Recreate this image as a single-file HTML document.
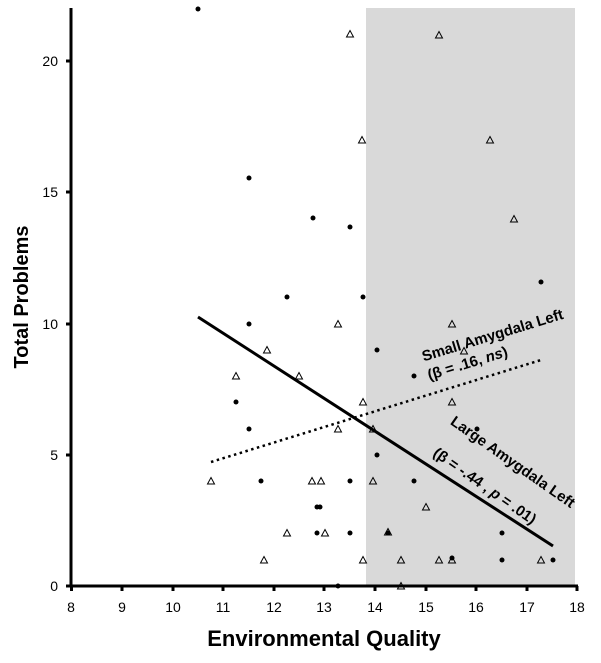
<!DOCTYPE html>
<html><head><meta charset="utf-8"><style>
html,body{margin:0;padding:0;background:#fff;}
svg{display:block;font-family:"Liberation Sans",sans-serif;}
</style></head><body>
<svg width="601" height="663" viewBox="0 0 601 663" xmlns="http://www.w3.org/2000/svg">
<rect x="366" y="8" width="209" height="578" fill="#d9d9d9"/>
<g fill="#000">
<circle cx="198" cy="9" r="2.5"/><circle cx="249" cy="178" r="2.5"/><circle cx="313" cy="218" r="2.5"/><circle cx="350" cy="227" r="2.5"/>
<circle cx="287" cy="297" r="2.5"/><circle cx="363" cy="297" r="2.5"/><circle cx="541" cy="282" r="2.5"/>
<circle cx="249" cy="324" r="2.5"/><circle cx="377" cy="350" r="2.5"/><circle cx="236" cy="402" r="2.5"/><circle cx="249" cy="429" r="2.5"/>
<circle cx="377" cy="455" r="2.5"/><circle cx="261" cy="481" r="2.5"/><circle cx="350" cy="481" r="2.5"/>
<circle cx="317" cy="507" r="2.5"/><circle cx="320" cy="507" r="2.5"/><circle cx="317" cy="533" r="2.5"/><circle cx="350" cy="533" r="2.5"/>
<circle cx="338" cy="586" r="2.5"/><circle cx="414" cy="376" r="2.5"/><circle cx="477" cy="429" r="2.5"/><circle cx="414" cy="481" r="2.5"/>
<circle cx="502" cy="533" r="2.5"/><circle cx="502" cy="560" r="2.5"/><circle cx="553" cy="560" r="2.5"/><circle cx="452" cy="558" r="2.5"/><circle cx="388" cy="533" r="2.5"/>
</g>
<g fill="none" stroke="#000" stroke-width="1">
<path d="M0,-3.5 L3.5,3 L-3.5,3 Z" transform="translate(350,34)"/>
<path d="M0,-3.5 L3.5,3 L-3.5,3 Z" transform="translate(439,35)"/>
<path d="M0,-3.5 L3.5,3 L-3.5,3 Z" transform="translate(362,140)"/>
<path d="M0,-3.5 L3.5,3 L-3.5,3 Z" transform="translate(490,140)"/>
<path d="M0,-3.5 L3.5,3 L-3.5,3 Z" transform="translate(514,219)"/>
<path d="M0,-3.5 L3.5,3 L-3.5,3 Z" transform="translate(338,324)"/>
<path d="M0,-3.5 L3.5,3 L-3.5,3 Z" transform="translate(452,324)"/>
<path d="M0,-3.5 L3.5,3 L-3.5,3 Z" transform="translate(267,350)"/>
<path d="M0,-3.5 L3.5,3 L-3.5,3 Z" transform="translate(464,351)"/>
<path d="M0,-3.5 L3.5,3 L-3.5,3 Z" transform="translate(236,376)"/>
<path d="M0,-3.5 L3.5,3 L-3.5,3 Z" transform="translate(299,376)"/>
<path d="M0,-3.5 L3.5,3 L-3.5,3 Z" transform="translate(363,402)"/>
<path d="M0,-3.5 L3.5,3 L-3.5,3 Z" transform="translate(452,402)"/>
<path d="M0,-3.5 L3.5,3 L-3.5,3 Z" transform="translate(338,429)"/>
<path d="M0,-3.5 L3.5,3 L-3.5,3 Z" transform="translate(373,429)"/>
<path d="M0,-3.5 L3.5,3 L-3.5,3 Z" transform="translate(211,481)"/>
<path d="M0,-3.5 L3.5,3 L-3.5,3 Z" transform="translate(312,481)"/>
<path d="M0,-3.5 L3.5,3 L-3.5,3 Z" transform="translate(321,481)"/>
<path d="M0,-3.5 L3.5,3 L-3.5,3 Z" transform="translate(373,481)"/>
<path d="M0,-3.5 L3.5,3 L-3.5,3 Z" transform="translate(426,507)"/>
<path d="M0,-3.5 L3.5,3 L-3.5,3 Z" transform="translate(287,533)"/>
<path d="M0,-3.5 L3.5,3 L-3.5,3 Z" transform="translate(325,533)"/>
<path d="M0,-3.5 L3.5,3 L-3.5,3 Z" transform="translate(264,560)"/>
<path d="M0,-3.5 L3.5,3 L-3.5,3 Z" transform="translate(363,560)"/>
<path d="M0,-3.5 L3.5,3 L-3.5,3 Z" transform="translate(401,560)"/>
<path d="M0,-3.5 L3.5,3 L-3.5,3 Z" transform="translate(439,560)"/>
<path d="M0,-3.5 L3.5,3 L-3.5,3 Z" transform="translate(541,560)"/>
<path d="M0,-3.5 L3.5,3 L-3.5,3 Z" transform="translate(401,586)"/>
<path d="M0,-3.5 L3.5,3 L-3.5,3 Z" transform="translate(452,560)"/>
<path d="M0,-3.5 L3.5,3 L-3.5,3 Z" transform="translate(388,532)"/>
</g>
<line x1="198" y1="317" x2="553" y2="546" stroke="#000" stroke-width="3"/>
<line x1="211" y1="462" x2="541" y2="360" stroke="#000" stroke-width="2.5" stroke-dasharray="2.5,3.5"/>
<g fill="#000" font-weight="bold" font-size="15">
<text transform="translate(494,340) rotate(-17)" text-anchor="middle">Small Amygdala Left</text>
<text transform="translate(469,368) rotate(-17)" text-anchor="middle">(β = .16, <tspan font-style="italic">ns</tspan>)</text>
<text transform="translate(510,466) rotate(35)" text-anchor="middle">Large Amygdala Left</text>
<text transform="translate(482,490) rotate(35)" text-anchor="middle">(β = -.44 , <tspan font-style="italic">p</tspan> = .01)</text>
</g>
<g stroke="#000" stroke-width="3">
<line x1="71" y1="8" x2="71" y2="587"/>
<line x1="70" y1="586" x2="578" y2="586"/>
</g>
<g stroke="#000" stroke-width="3">
<line x1="66" y1="586" x2="71" y2="586"/><line x1="66" y1="455" x2="71" y2="455"/><line x1="66" y1="324" x2="71" y2="324"/><line x1="66" y1="192" x2="71" y2="192"/><line x1="66" y1="61" x2="71" y2="61"/>
<line x1="71.5" y1="586" x2="71.5" y2="591"/><line x1="122" y1="586" x2="122" y2="591"/><line x1="173" y1="586" x2="173" y2="591"/><line x1="223" y1="586" x2="223" y2="591"/><line x1="274" y1="586" x2="274" y2="591"/><line x1="324" y1="586" x2="324" y2="591"/><line x1="375" y1="586" x2="375" y2="591"/><line x1="426" y1="586" x2="426" y2="591"/><line x1="476" y1="586" x2="476" y2="591"/><line x1="527" y1="586" x2="527" y2="591"/><line x1="577" y1="586" x2="577" y2="591"/>
</g>
<g font-size="14" fill="#000" text-anchor="end">
<text x="58" y="591">0</text><text x="58" y="460">5</text><text x="58" y="329">10</text><text x="58" y="197">15</text><text x="58" y="66">20</text>
</g>
<g font-size="14" fill="#000" text-anchor="middle">
<text x="71" y="612">8</text><text x="122" y="612">9</text><text x="173" y="612">10</text><text x="223" y="612">11</text><text x="274" y="612">12</text><text x="324" y="612">13</text><text x="375" y="612">14</text><text x="426" y="612">15</text><text x="476" y="612">16</text><text x="527" y="612">17</text><text x="577" y="612">18</text>
</g>
<text x="324" y="646" text-anchor="middle" font-weight="bold" font-size="22">Environmental Quality</text>
<text transform="translate(28,297) rotate(-90)" text-anchor="middle" font-weight="bold" font-size="20">Total Problems</text>
</svg>
</body></html>
